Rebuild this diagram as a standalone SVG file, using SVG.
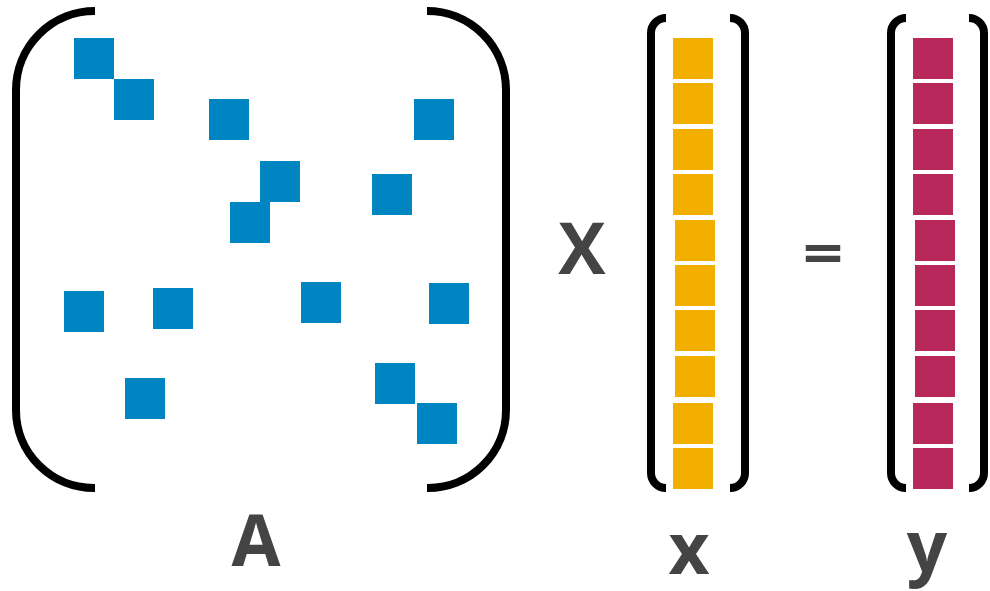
<svg xmlns="http://www.w3.org/2000/svg" width="990" height="591" viewBox="0 0 990 591">
  <style>
    .br { fill: none; stroke: #000; stroke-width: 8; }
    .a { fill: #0085C3; }
    .xv { fill: #F2AF00; }
    .yv { fill: #B8285A; }
    .lbl { font-family: "Open Sans", "Liberation Sans", sans-serif; font-weight: bold; font-size: 71px; fill: #444; text-anchor: middle; }
  </style>
  <rect width="990" height="591" fill="#fff"/>

  <!-- matrix A -->
  <g id="matrixA">
    <path class="br" d="M95,11 A79,79 0 0 0 16,90 V410 A78,78 0 0 0 94,488 H95"/>
    <path class="br" d="M427,11 A79,79 0 0 1 506,90 V410 A78,78 0 0 1 428,488 H427"/>
    <rect class="a" x="74" y="38" width="40" height="41"/>
    <rect class="a" x="114" y="79" width="40" height="41"/>
    <rect class="a" x="209" y="99" width="40" height="41"/>
    <rect class="a" x="414" y="99" width="40" height="41"/>
    <rect class="a" x="260" y="161" width="40" height="41"/>
    <rect class="a" x="372" y="174" width="40" height="41"/>
    <rect class="a" x="230" y="202" width="40" height="41"/>
    <rect class="a" x="64" y="291" width="40" height="41"/>
    <rect class="a" x="153" y="288" width="40" height="41"/>
    <rect class="a" x="301" y="282" width="40" height="41"/>
    <rect class="a" x="429" y="283" width="40" height="41"/>
    <rect class="a" x="125" y="378" width="40" height="41"/>
    <rect class="a" x="375" y="363" width="40" height="41"/>
    <rect class="a" x="417" y="403" width="40" height="41"/>
    <text class="lbl" x="256" y="566">A</text>
  </g>

  <!-- operators -->
  <g id="times"><text class="lbl" x="582" y="274">X</text></g>
  <g id="equals"><text class="lbl" transform="translate(823,274) scale(1,0.8)" x="0" y="0">=</text></g>

  <!-- vector x -->
  <g id="vectorX">
    <path class="br" d="M666,18 A15,15 0 0 0 651,33 V473 A15,15 0 0 0 666,488"/>
    <path class="br" d="M730,18 A15,15 0 0 1 745,33 V473 A15,15 0 0 1 730,488"/>
    <rect class="xv" x="673" y="38" width="40" height="41"/>
    <rect class="xv" x="673" y="83" width="40" height="41"/>
    <rect class="xv" x="673" y="129" width="40" height="41"/>
    <rect class="xv" x="673" y="174" width="40" height="41"/>
    <rect class="xv" x="675" y="220" width="40" height="41"/>
    <rect class="xv" x="675" y="265" width="40" height="41"/>
    <rect class="xv" x="675" y="310" width="40" height="41"/>
    <rect class="xv" x="675" y="356" width="40" height="41"/>
    <rect class="xv" x="673" y="403" width="40" height="41"/>
    <rect class="xv" x="673" y="448" width="40" height="41"/>
    <text class="lbl" x="689" y="574">x</text>
  </g>

  <!-- vector y -->
  <g id="vectorY">
    <path class="br" d="M906,18 A15,15 0 0 0 891,33 V473 A15,15 0 0 0 906,488"/>
    <path class="br" d="M969,18 A15,15 0 0 1 984,33 V473 A15,15 0 0 1 969,488"/>
    <rect class="yv" x="913" y="38" width="40" height="41"/>
    <rect class="yv" x="913" y="83" width="40" height="41"/>
    <rect class="yv" x="913" y="129" width="40" height="41"/>
    <rect class="yv" x="913" y="174" width="40" height="41"/>
    <rect class="yv" x="915" y="220" width="40" height="41"/>
    <rect class="yv" x="915" y="265" width="40" height="41"/>
    <rect class="yv" x="915" y="310" width="40" height="41"/>
    <rect class="yv" x="915" y="356" width="40" height="41"/>
    <rect class="yv" x="913" y="403" width="40" height="41"/>
    <rect class="yv" x="913" y="448" width="40" height="41"/>
    <text class="lbl" x="927" y="572">y</text>
  </g>
</svg>
